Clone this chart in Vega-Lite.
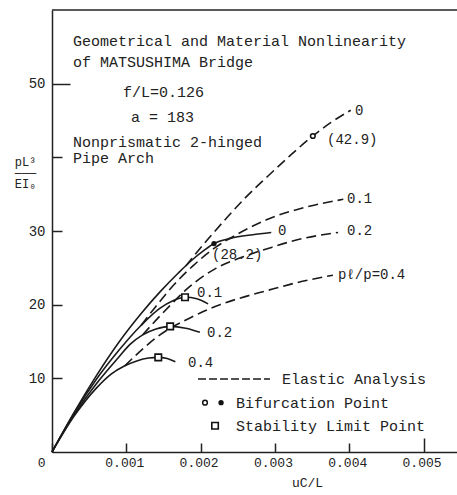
{
  "$schema": "https://vega.github.io/schema/vega-lite/v6.json",
  "width": 405,
  "height": 442,
  "autosize": {"type": "none"},
  "padding": {"left": 52, "top": 10, "right": 0, "bottom": 43},
  "background": "white",
  "config": {
    "view": {"stroke": null},
    "font": "Liberation Mono",
    "axis": {"grid": false, "domainColor": "#222", "domainWidth": 1.5, "tickColor": "#222", "tickWidth": 1.5, "labelColor": "#222", "titleColor": "#222", "labelFont": "Liberation Mono", "titleFont": "Liberation Mono", "titleFontWeight": "normal"}
  },
  "datasets": {
    "curves": [
      {"series": "s0", "style": "solid", "u": 0, "v": 0},
      {"series": "s0", "style": "solid", "u": 0.0003, "v": 5.4},
      {"series": "s0", "style": "solid", "u": 0.0006, "v": 10.4},
      {"series": "s0", "style": "solid", "u": 0.0009, "v": 14.9},
      {"series": "s0", "style": "solid", "u": 0.0012, "v": 18.8},
      {"series": "s0", "style": "solid", "u": 0.00145, "v": 21.7},
      {"series": "s0", "style": "solid", "u": 0.0017, "v": 24.3},
      {"series": "s0", "style": "solid", "u": 0.0019, "v": 26.2},
      {"series": "s0", "style": "solid", "u": 0.00205, "v": 27.4},
      {"series": "s0", "style": "solid", "u": 0.00218, "v": 28.3},
      {"series": "s0", "style": "solid", "u": 0.0024, "v": 29.0},
      {"series": "s0", "style": "solid", "u": 0.0027, "v": 29.5},
      {"series": "s0", "style": "solid", "u": 0.00295, "v": 29.8},
      {"series": "s1", "style": "solid", "u": 0, "v": 0},
      {"series": "s1", "style": "solid", "u": 0.0003, "v": 5.3},
      {"series": "s1", "style": "solid", "u": 0.0006, "v": 9.9},
      {"series": "s1", "style": "solid", "u": 0.0009, "v": 13.8},
      {"series": "s1", "style": "solid", "u": 0.0012, "v": 17.2},
      {"series": "s1", "style": "solid", "u": 0.00145, "v": 19.5},
      {"series": "s1", "style": "solid", "u": 0.00162, "v": 20.5},
      {"series": "s1", "style": "solid", "u": 0.00179, "v": 21.0},
      {"series": "s1", "style": "solid", "u": 0.00195, "v": 20.8},
      {"series": "s1", "style": "solid", "u": 0.0021, "v": 20.1},
      {"series": "s2", "style": "solid", "u": 0, "v": 0},
      {"series": "s2", "style": "solid", "u": 0.0003, "v": 5.1},
      {"series": "s2", "style": "solid", "u": 0.0006, "v": 9.3},
      {"series": "s2", "style": "solid", "u": 0.0009, "v": 12.9},
      {"series": "s2", "style": "solid", "u": 0.00105, "v": 14.6},
      {"series": "s2", "style": "solid", "u": 0.00122, "v": 15.9},
      {"series": "s2", "style": "solid", "u": 0.0014, "v": 16.7},
      {"series": "s2", "style": "solid", "u": 0.00159, "v": 17.05},
      {"series": "s2", "style": "solid", "u": 0.0018, "v": 16.8},
      {"series": "s2", "style": "solid", "u": 0.00199, "v": 16.25},
      {"series": "s4", "style": "solid", "u": 0, "v": 0},
      {"series": "s4", "style": "solid", "u": 0.0003, "v": 4.9},
      {"series": "s4", "style": "solid", "u": 0.0006, "v": 8.7},
      {"series": "s4", "style": "solid", "u": 0.0008, "v": 10.6},
      {"series": "s4", "style": "solid", "u": 0.00098, "v": 11.7},
      {"series": "s4", "style": "solid", "u": 0.00115, "v": 12.4},
      {"series": "s4", "style": "solid", "u": 0.0013, "v": 12.75},
      {"series": "s4", "style": "solid", "u": 0.00143, "v": 12.85},
      {"series": "s4", "style": "solid", "u": 0.00155, "v": 12.7},
      {"series": "s4", "style": "solid", "u": 0.00166, "v": 12.25},
      {"series": "d0", "style": "dashed", "u": 0.0018, "v": 25.25},
      {"series": "d0", "style": "dashed", "u": 0.0019, "v": 26.5},
      {"series": "d0", "style": "dashed", "u": 0.0021, "v": 28.9},
      {"series": "d0", "style": "dashed", "u": 0.00237, "v": 32.0},
      {"series": "d0", "style": "dashed", "u": 0.0026, "v": 34.5},
      {"series": "d0", "style": "dashed", "u": 0.0029, "v": 37.4},
      {"series": "d0", "style": "dashed", "u": 0.0032, "v": 40.2},
      {"series": "d0", "style": "dashed", "u": 0.00351, "v": 42.9},
      {"series": "d0", "style": "dashed", "u": 0.00375, "v": 44.7},
      {"series": "d0", "style": "dashed", "u": 0.00402, "v": 46.4},
      {"series": "d1", "style": "dashed", "u": 0.0012, "v": 17.2},
      {"series": "d1", "style": "dashed", "u": 0.0014, "v": 19.8},
      {"series": "d1", "style": "dashed", "u": 0.00165, "v": 22.8},
      {"series": "d1", "style": "dashed", "u": 0.0019, "v": 25.3},
      {"series": "d1", "style": "dashed", "u": 0.00219, "v": 27.7},
      {"series": "d1", "style": "dashed", "u": 0.0025, "v": 29.6},
      {"series": "d1", "style": "dashed", "u": 0.00293, "v": 31.7},
      {"series": "d1", "style": "dashed", "u": 0.0034, "v": 33.2},
      {"series": "d1", "style": "dashed", "u": 0.00392, "v": 34.3},
      {"series": "d2", "style": "dashed", "u": 0.00122, "v": 15.9},
      {"series": "d2", "style": "dashed", "u": 0.0014, "v": 17.9},
      {"series": "d2", "style": "dashed", "u": 0.0016, "v": 20.0},
      {"series": "d2", "style": "dashed", "u": 0.00179, "v": 21.9},
      {"series": "d2", "style": "dashed", "u": 0.00192, "v": 23.0},
      {"series": "d2", "style": "dashed", "u": 0.0022, "v": 24.9},
      {"series": "d2", "style": "dashed", "u": 0.00266, "v": 26.8},
      {"series": "d2", "style": "dashed", "u": 0.00293, "v": 27.7},
      {"series": "d2", "style": "dashed", "u": 0.0033, "v": 28.8},
      {"series": "d2", "style": "dashed", "u": 0.00385, "v": 29.8},
      {"series": "d4", "style": "dashed", "u": 0.00098, "v": 11.7},
      {"series": "d4", "style": "dashed", "u": 0.0012, "v": 13.8},
      {"series": "d4", "style": "dashed", "u": 0.0014, "v": 15.5},
      {"series": "d4", "style": "dashed", "u": 0.00159, "v": 16.8},
      {"series": "d4", "style": "dashed", "u": 0.00176, "v": 17.7},
      {"series": "d4", "style": "dashed", "u": 0.002, "v": 18.9},
      {"series": "d4", "style": "dashed", "u": 0.00226, "v": 20.0},
      {"series": "d4", "style": "dashed", "u": 0.0025, "v": 20.8},
      {"series": "d4", "style": "dashed", "u": 0.00289, "v": 21.9},
      {"series": "d4", "style": "dashed", "u": 0.0033, "v": 23.0},
      {"series": "d4", "style": "dashed", "u": 0.00378, "v": 24.0},
      {"series": "legend", "style": "legend", "u": 0.001965, "v": 9.9},
      {"series": "legend", "style": "legend", "u": 0.002934, "v": 9.9},
      {"series": "frame", "style": "frame", "u": 0, "v": 60},
      {"series": "frame", "style": "frame", "u": 0.00545, "v": 60}
    ],
    "markers": [
      {"kind": "open", "u": 0.00351, "v": 42.9},
      {"kind": "dot", "u": 0.00218, "v": 28.3},
      {"kind": "square", "u": 0.00179, "v": 21.0},
      {"kind": "square", "u": 0.00159, "v": 17.05},
      {"kind": "square", "u": 0.00143, "v": 12.85},
      {"kind": "open", "u": 0.002059, "v": 6.69},
      {"kind": "dot", "u": 0.002275, "v": 6.69},
      {"kind": "square", "u": 0.002194, "v": 3.57}
    ],
    "labels": [
      {"kind": "big", "u": 0.000283, "v": 55.77, "text": "Geometrical and Material Nonlinearity"},
      {"kind": "big", "u": 0.000283, "v": 52.9, "text": "of MATSUSHIMA Bridge"},
      {"kind": "big", "u": 0.000956, "v": 48.85, "text": "f/L=0.126"},
      {"kind": "big", "u": 0.001063, "v": 45.45, "text": "a = 183"},
      {"kind": "big", "u": 0.000283, "v": 42.1, "text": "Nonprismatic 2-hinged"},
      {"kind": "big", "u": 0.000283, "v": 39.9, "text": "Pipe Arch"},
      {"kind": "curve", "u": 0.004078, "v": 46.27, "text": "0"},
      {"kind": "curve", "u": 0.003701, "v": 42.33, "text": "(42.9)"},
      {"kind": "curve", "u": 0.00397, "v": 34.33, "text": "0.1"},
      {"kind": "curve", "u": 0.00397, "v": 29.99, "text": "0.2"},
      {"kind": "curve", "u": 0.003042, "v": 29.99, "text": "0"},
      {"kind": "curve", "u": 0.002153, "v": 26.73, "text": "(28.2)"},
      {"kind": "curve", "u": 0.003849, "v": 24.02, "text": "pℓ/p=0.4"},
      {"kind": "curve", "u": 0.001952, "v": 21.57, "text": "0.1"},
      {"kind": "curve", "u": 0.002086, "v": 16.15, "text": "0.2"},
      {"kind": "curve", "u": 0.00183, "v": 12.08, "text": "0.4"},
      {"kind": "big", "u": 0.003096, "v": 9.9, "text": "Elastic Analysis"},
      {"kind": "big", "u": 0.002476, "v": 6.69, "text": "Bifurcation Point"},
      {"kind": "big", "u": 0.002476, "v": 3.57, "text": "Stability Limit Point"}
    ]
  },
  "encoding": {
    "x": {
      "field": "u", "type": "quantitative",
      "scale": {"domain": [0, 0.00545], "nice": false, "zero": false},
      "axis": {
        "values": [0, 0.001, 0.002, 0.003, 0.004, 0.005],
        "labelExpr": "datum.value == 0 ? '0' : format(datum.value, '.3f')",
        "labelFontSize": 13,
        "labelPadding": {"condition": {"test": "datum.value > 0.0045", "value": 18}, "value": 13},
        "labelAlign": {"condition": {"test": "datum.value == 0", "value": "right"}, "value": "center"},
        "labelOffset": {"condition": {"test": "datum.value == 0", "value": -7}, "value": -2},
        "tickSize": {"condition": {"test": "datum.value > 0.0045", "value": -14}, "value": -9},
        "title": "uC/L",
        "titleFontSize": 13,
        "titleBaseline": "middle",
        "titleX": 255,
        "titleY": 30
      }
    },
    "y": {
      "field": "v", "type": "quantitative",
      "scale": {"domain": [0, 60], "nice": false, "zero": false},
      "axis": {
        "values": [10, 20, 30, 40, 50],
        "labelExpr": "datum.value == 40 ? '' : datum.label",
        "labelFontSize": 14,
        "labelPadding": {"condition": {"test": "datum.value == 50", "value": 25}, "value": 17},
        "tickSize": {"condition": {"test": "datum.value == 50", "value": -18}, "value": -10},
        "title": ["pL³", "───", "EI₀"],
        "titleAngle": 0,
        "titleFontSize": 12,
        "titleLineHeight": 11,
        "titleAlign": "center",
        "titleBaseline": "middle",
        "titleX": -27,
        "titleY": 151
      }
    }
  },
  "layer": [
    {
      "data": {"name": "curves"},
      "transform": [{"filter": "datum.style == 'frame'"}],
      "mark": {"type": "line", "color": "#222", "strokeWidth": 1.5}
    },
    {
      "data": {"name": "curves"},
      "transform": [{"filter": "datum.style == 'solid'"}],
      "mark": {"type": "line", "color": "#1a1a1a", "strokeWidth": 1.6, "interpolate": "monotone"},
      "encoding": {"detail": {"field": "series"}}
    },
    {
      "data": {"name": "curves"},
      "transform": [{"filter": "datum.style == 'dashed'"}],
      "mark": {"type": "line", "color": "#1a1a1a", "strokeWidth": 1.6, "interpolate": "monotone", "strokeDash": [10, 5]},
      "encoding": {"detail": {"field": "series"}}
    },
    {
      "data": {"name": "curves"},
      "transform": [{"filter": "datum.style == 'legend'"}],
      "mark": {"type": "line", "color": "#1a1a1a", "strokeWidth": 1.6, "strokeDash": [8, 3]},
      "encoding": {"detail": {"field": "series"}}
    },
    {
      "data": {"name": "markers"},
      "transform": [{"filter": "datum.kind == 'square'"}],
      "mark": {"type": "point", "shape": "square", "size": 42, "filled": true, "fill": "white", "stroke": "#111", "strokeWidth": 1.6, "opacity": 1}
    },
    {
      "data": {"name": "markers"},
      "transform": [{"filter": "datum.kind == 'open'"}],
      "mark": {"type": "point", "shape": "circle", "size": 22, "filled": true, "fill": "white", "stroke": "#111", "strokeWidth": 1.5, "opacity": 1}
    },
    {
      "data": {"name": "markers"},
      "transform": [{"filter": "datum.kind == 'dot'"}],
      "mark": {"type": "point", "shape": "circle", "size": 28, "filled": true, "color": "#111", "opacity": 1}
    },
    {
      "data": {"name": "labels"},
      "transform": [{"filter": "datum.kind == 'big'"}],
      "mark": {"type": "text", "align": "left", "baseline": "middle", "fontSize": 15, "color": "#222", "font": "Liberation Mono"},
      "encoding": {"text": {"field": "text"}}
    },
    {
      "data": {"name": "labels"},
      "transform": [{"filter": "datum.kind == 'curve'"}],
      "mark": {"type": "text", "align": "left", "baseline": "middle", "fontSize": 14, "color": "#222", "font": "Liberation Mono"},
      "encoding": {"text": {"field": "text"}}
    }
  ]
}
